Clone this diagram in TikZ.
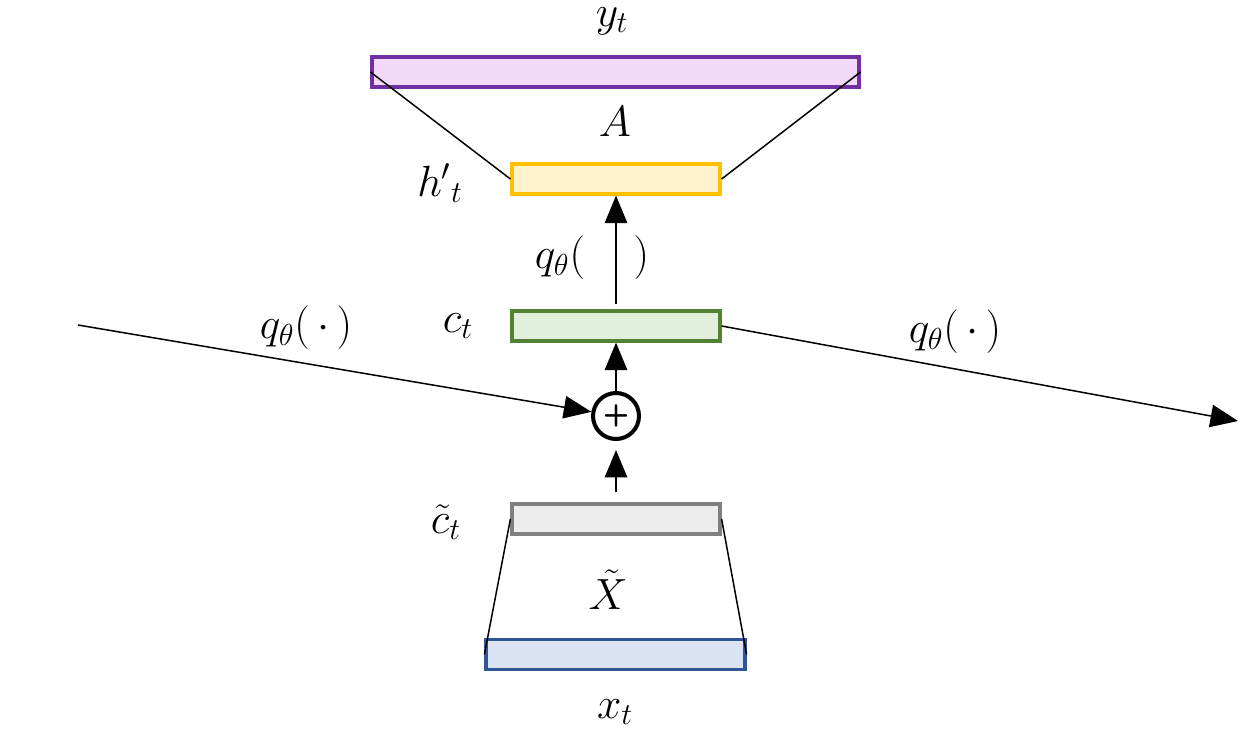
\documentclass[tikz,border=0pt]{standalone}
\usetikzlibrary{arrows.meta,calc,positioning}

\definecolor{purpleline}{HTML}{7030A0}
\definecolor{purplefill}{HTML}{F2D9FC}
\definecolor{yellowline}{HTML}{FFC000}
\definecolor{yellowfill}{HTML}{FFF2CC}
\definecolor{greenline}{HTML}{548235}
\definecolor{greenfill}{HTML}{E2EFDA}
\definecolor{grayline}{HTML}{808080}
\definecolor{grayfill}{HTML}{EDEDED}
\definecolor{blueline}{HTML}{2F5597}
\definecolor{bluefill}{HTML}{DAE3F3}

\tikzset{
  layer/.style={draw, line width=0.065cm, inner sep=0pt, minimum height=0.6cm},
  lbl/.style={font=\fontsize{23}{27}\selectfont, inner sep=1pt},
  flow/.style={line width=0.03cm, -{Triangle[length=0.55cm, width=0.45cm]}},
  link/.style={line width=0.03cm},
}

\begin{document}
\begin{tikzpicture}[x=0.02cm, y=-0.02cm]
\useasboundingbox (0,0) rectangle (1243,736);

% layers
\node[layer, draw=purpleline, fill=purplefill, minimum width=9.74cm] (yt) at (615.5,72) {};
\node[layer, draw=yellowline, fill=yellowfill, minimum width=4.16cm] (ht) at (616,179) {};
\node[layer, draw=greenline, fill=greenfill, minimum width=4.16cm] (ct) at (616,326) {};
\node[layer, draw=grayline, fill=grayfill, minimum width=4.16cm] (cht) at (616,519) {};
\node[layer, draw=blueline, fill=bluefill, minimum width=5.18cm] (xt) at (615.5,654.5) {};

\node[circle, draw, line width=0.08cm, minimum size=0.92cm, inner sep=0pt,
      font=\LARGE\bfseries\sffamily] (plus) at (616,416) {+};

% labels
\node[lbl] (lyt) at (612,21) {$y_t$};
\node[lbl] (lA) at (615,122) {$A$};
\node[lbl] (lht) at (440,183) {${h'}_t$};
\node[lbl] (lq1) at (592,258) {$q_\theta(\;\;\;\;)$};
\node[lbl] (lct) at (458,326) {$c_t$};
\node[lbl] (lq2) at (306,328) {$q_\theta(\,\cdot\,)$};
\node[lbl] (lq3) at (955,332) {$q_\theta(\,\cdot\,)$};
\node[lbl] (lcht) at (446,522) {$\tilde{c}_t$};
\node[lbl] (lX) at (608,590) {$\tilde{X}$};
\node[lbl] (lxt) at (615,712) {$x_t$};

% connectors
\coordinate (left) at (78,325);
\coordinate (right) at (1238,421);
\coordinate (cbot) at ($(cht.north)+(0,-10)$);
\coordinate (ctop) at ($(ct.north)+(0,-5)$);

\draw[link] (yt.west) -- (ht.west);
\draw[link] (yt.east) -- (ht.east);
\draw[link] (cht.west) -- (xt.west);
\draw[link] (cht.east) -- (xt.east);

\draw[flow] (ctop) -- (ht.south);
\draw[flow] (plus.north) -- (ct.south);
\draw[flow] (cbot) -- ($(plus.south)+(0,9)$);
\draw[flow] (left) -- (plus);
\draw[flow] (ct.east) -- (right);
\end{tikzpicture}
\end{document}
